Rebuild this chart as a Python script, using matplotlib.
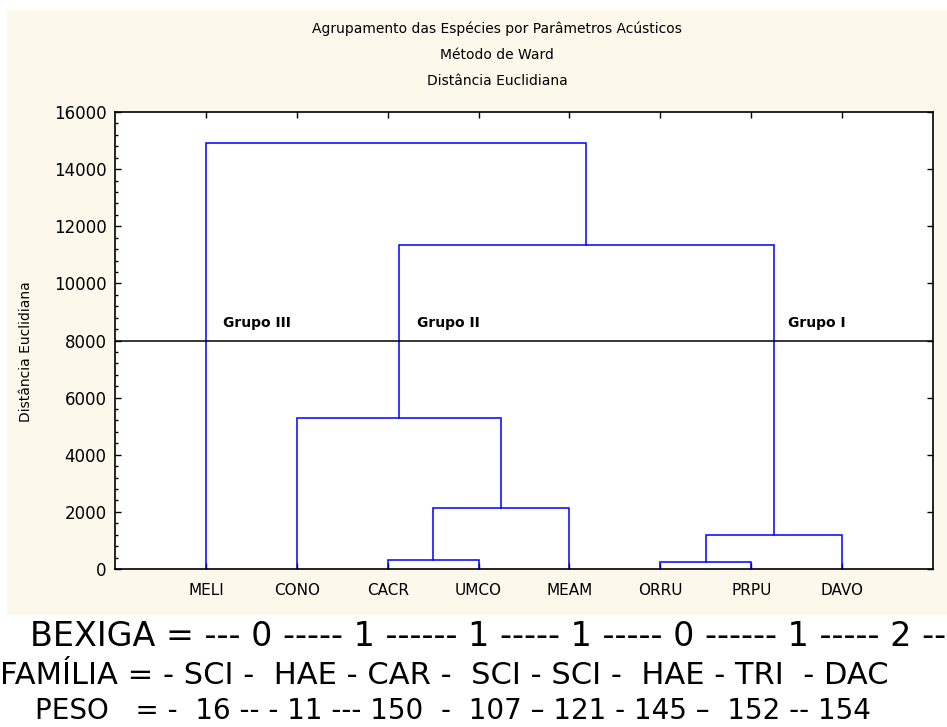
import numpy as np
import matplotlib.pyplot as plt
from matplotlib.patches import Rectangle
from matplotlib.ticker import MultipleLocator

# especies (folhas do dendrograma, na ordem do eixo x)
especies = ['MELI', 'CONO', 'CACR', 'UMCO', 'MEAM', 'ORRU', 'PRPU', 'DAVO']

# fusoes do metodo de Ward: (no_esq, no_dir, distancia)
# nos 0..7 sao as folhas, 8.. sao os grupos formados em ordem
fusoes = [
    (6, 5, 250),      # ORRU + PRPU      -> 8
    (2, 3, 320),      # CACR + UMCO      -> 9
    (8, 7, 1200),     # (ORRU,PRPU)+DAVO -> 10
    (9, 4, 2150),     # (CACR,UMCO)+MEAM -> 11
    (1, 11, 5300),    # CONO + ...       -> 12
    (12, 10, 11350),  # grupo II + grupo I -> 13
    (0, 13, 14900),   # MELI + resto     -> 14
]
corte = 8000

grupos = ['Grupo III', 'Grupo II', 'Grupo I']
grupos_x = [1.19, 3.32, 7.41]
grupos_y = 8600

titulo = ['Agrupamento das Espécies por Parâmetros Acústicos',
          'Método de Ward',
          'Distância Euclidiana']

linhas_rodape = [
    'BEXIGA = --- 0 ----- 1 ------ 1 ----- 1 ----- 0 ------ 1 ----- 2 --',
    'FAMÍLIA = - SCI -  HAE - CAR -  SCI - SCI -  HAE - TRI  - DAC',
    'PESO   = -  16 -- - 11 --- 150  -  107 – 121 - 145 –  152 -- 154',
]

plt.rcParams['font.family'] = ['DejaVu Sans']

fig = plt.figure(figsize=(9.47, 7.27), dpi=100, facecolor='white')
W, H = 947, 727

# fundo creme da area do grafico
fig.patches.append(Rectangle((7 / W, 1 - 615 / H), 1 - 7 / W, (615 - 10) / H,
                             transform=fig.transFigure, facecolor='#fdf8ec',
                             edgecolor='none', zorder=-10))

ax = fig.add_axes([115 / W, 1 - 569 / H, (933 - 115) / W, (569 - 112) / H])
ax.set_zorder(1)
ax.set_facecolor('white')

# posicao x e altura de cada no
xpos = {i: float(i + 1) for i in range(len(especies))}
alt = {i: 0.0 for i in range(len(especies))}
azul = '#0000ff'
for k, (a, b, d) in enumerate(fusoes):
    no = len(especies) + k
    xa, xb = xpos[a], xpos[b]
    ax.plot([xa, xa, xb, xb], [alt[a], d, d, alt[b]], color=azul, lw=1.1,
            solid_joinstyle='miter')
    xpos[no] = (xa + xb) / 2
    alt[no] = d

ax.axhline(corte, color='black', lw=1.1)

for g, gx in zip(grupos, grupos_x):
    ax.text(gx, grupos_y, g, fontsize=10, fontweight='bold', va='center')

ax.set_xlim(0, len(especies) + 1)
ax.set_ylim(0, 16000)
ax.set_xticks(np.arange(1, len(especies) + 1))
ax.set_xticklabels(especies, fontsize=11)
ax.yaxis.set_major_locator(MultipleLocator(2000))
ax.yaxis.set_minor_locator(MultipleLocator(400))
ax.tick_params(axis='both', which='both', direction='in', top=True, right=True,
               width=1)
ax.tick_params(axis='both', which='major', length=4)
ax.tick_params(axis='y', which='minor', length=2, right=False)
ax.tick_params(axis='y', labelsize=12, pad=6)
ax.tick_params(axis='x', pad=10)
for s in ax.spines.values():
    s.set_linewidth(1.2)

ax.set_ylabel('Distância Euclidiana', fontsize=10)
ax.yaxis.set_label_coords(-0.100, 0.475)

for i, t in enumerate(titulo):
    fig.text(497 / W, 1 - (29 + 26 * i) / H, t, fontsize=10, ha='center', va='center')

rodape_x = [30, 0, 35]
rodape_y = [637, 676, 711]
rodape_tam = [24, 22, 20]
for t, x, y, tam in zip(linhas_rodape, rodape_x, rodape_y, rodape_tam):
    fig.text(x / W, 1 - y / H, t, fontsize=tam, ha='left', va='center')

fig.savefig('out.png', dpi=100, facecolor=fig.get_facecolor())
